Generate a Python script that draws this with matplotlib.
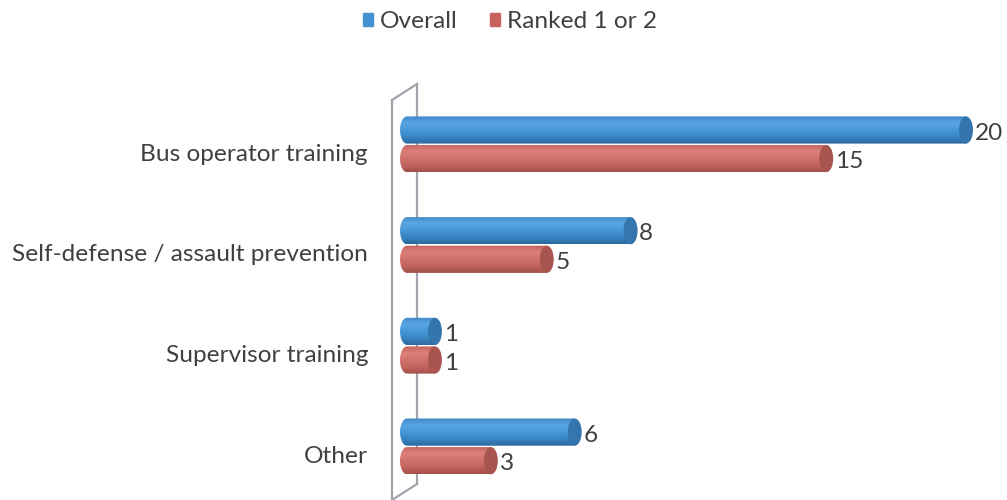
import numpy as np
import matplotlib.pyplot as plt
from matplotlib.patches import Ellipse, PathPatch, Patch
from matplotlib.path import Path
from matplotlib.colors import LinearSegmentedColormap

categories = ["Bus operator training", "Self-defense / assault prevention",
              "Supervisor training", "Other"]
overall = [20, 8, 1, 6]
ranked = [15, 5, 1, 3]
series_names = ["Overall", "Ranked 1 or 2"]

plt.rcParams['font.family'] = ['Lato', 'DejaVu Sans']
text_color = "#404040"
fs = 17.6

W, H = 1007, 500
fig = plt.figure(figsize=(W / 100, H / 100), dpi=100)

# axes placed in pixels: x=0 at 407px, 27.95 px per unit; category spacing 100.7 px
px_per_x = 27.95
x0_px = 407
xmin, xmax = -0.3, 21.3
left_px = x0_px + xmin * px_per_x
ax = fig.add_axes([left_px / W, 0, (xmax - xmin) * px_per_x / W, 415 / H])
ax.patch.set_visible(False)
for s in ax.spines.values():
    s.set_visible(False)
ax.set_xticks([])
ax.set_yticks([])

# wall (3D side panel) drawn in figure pixels, behind the bars
def fig_px(xs, ys):
    return [x / W for x in xs], [1 - y / H for y in ys]

wall_col = "#A0A5AD"
for xs, ys in [([392, 392], [100, 505]), ([392, 417], [100, 84]),
               ([417, 417], [84, 484]), ([417, 392], [484, 500])]:
    fx, fy = fig_px(xs, ys)
    ax.plot(fx, fy, color=wall_col, lw=1.6, transform=fig.transFigure,
            clip_on=False, zorder=0.5)

blue_cmap = LinearSegmentedColormap.from_list(
    "b", ["#3F88C8", "#5AA6E2", "#4797D7", "#3A86C5", "#2C699E"])
red_cmap = LinearSegmentedColormap.from_list(
    "r", ["#C5625D", "#DD817B", "#D1726C", "#C3635E", "#A24F4B"])
cap_cols = ["#3475AE", "#A8544F"]

bar_h = 0.27
offsets = [-0.139, 0.145]
r = 0.25
grad = np.linspace(0, 1, 64).reshape(-1, 1)


def cylinder(v, yc, cmap, cap_col):
    top, bot = yc - bar_h / 2, yc + bar_h / 2
    ang = np.linspace(np.pi / 2, 3 * np.pi / 2, 30)
    arc = np.column_stack([r * np.cos(ang), yc - (bar_h / 2) * np.sin(ang)])
    verts = np.vstack([[[v, top]], arc, [[v, bot]], [[v, top]]])
    body = PathPatch(Path(verts, closed=True), fc="none", ec="none")
    ax.add_patch(body)
    im = ax.imshow(grad, cmap=cmap, extent=(-r, v, bot, top), aspect="auto",
                   zorder=2, interpolation="bilinear")
    im.set_clip_path(body)
    ax.add_patch(Ellipse((v, yc), 2 * r, bar_h, fc=cap_col, ec="none", zorder=3))


for i, cat in enumerate(categories):
    for j, (vals, cmap) in enumerate([(overall, blue_cmap), (ranked, red_cmap)]):
        v = vals[i]
        yc = i + offsets[j]
        cylinder(v, yc, cmap, cap_cols[j])
        ax.text(v + r + 0.06, yc + 0.03, str(v), ha="left", va="center",
                fontsize=fs, color=text_color, clip_on=False)
    ax.text((368 - x0_px) / px_per_x, i + 0.1, cat, ha="right", va="center",
            fontsize=fs, color=text_color, clip_on=False)

ax.set_xlim(xmin, xmax)
ax.set_ylim((500 - 144) / 100.7, (85 - 144) / 100.7)

handles = [Patch(color="#4191D3"), Patch(color="#C8625D")]
fig.legend(handles, series_names, loc="center", bbox_to_anchor=(510 / W, 1 - 22 / H),
           ncol=2, frameon=False, fontsize=fs, handlelength=0.42, handleheight=0.42,
           handletextpad=0.3, columnspacing=1.3, labelcolor=text_color)

fig.savefig("out.png", dpi=100)
